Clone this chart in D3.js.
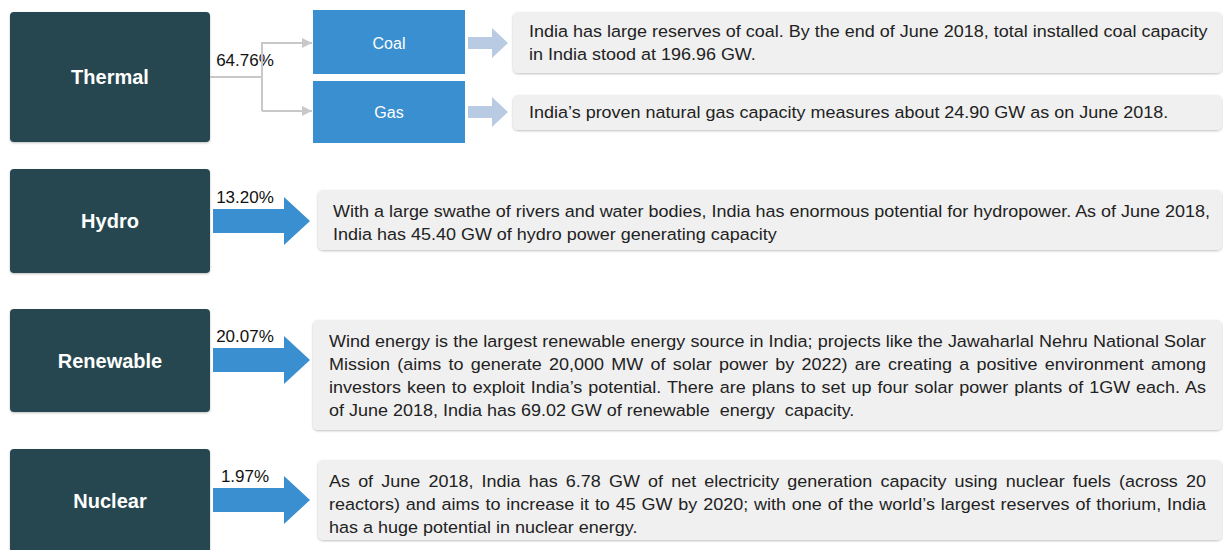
<html lang="en">
<head>
<meta http-equiv="Content-Type" content="text/html; charset=UTF-8">
<title>India power capacity</title>
<script type="text/javascript" src="https://cdn.jsdelivr.net/npm/d3@7"></script>
<style type="text/css">
body { margin: 0; background: #fff; }
text { font-family: "Liberation Sans", Arial, sans-serif; }
</style>
</head>
<body>

<script type="text/javascript">

// data
var categories = ["Thermal", "Hydro", "Renewable", "Nuclear"];
var shares = [64.76, 13.20, 20.07, 1.97];
var thermalTypes = ["Coal", "Gas"];
var thermalNotes = [
    ["India has large reserves of coal. By the end of June 2018, total installed coal capacity",
     "in India stood at 196.96 GW."],
    ["India\u2019s proven natural gas capacity measures about 24.90 GW as on June 2018."]
];
var notes = [
    null,
    ["With a large swathe of rivers and water bodies, India has enormous potential for hydropower. As of June 2018,",
     "India has 45.40 GW of hydro power generating capacity"],
    ["Wind energy is the largest renewable energy source in India; projects like the Jawaharlal Nehru National Solar",
     "Mission (aims to generate 20,000 MW of solar power by 2022) are creating a positive environment among",
     "investors keen to exploit India\u2019s potential. There are plans to set up four solar power plants of 1GW each. As",
     "of June 2018, India has 69.02 GW of renewable  energy  capacity."],
    ["As of June 2018, India has 6.78 GW of net electricity generation capacity using nuclear fuels (across 20",
     "reactors) and aims to increase it to 45 GW by 2020; with one of the world\u2019s largest reserves of thorium, India",
     "has a huge potential in nuclear energy."]
];

// layout
var boxTop = d3.scaleOrdinal().domain(categories).range([12, 169, 309, 449]);
var boxHeight = d3.scaleOrdinal().domain(categories).range([130, 104, 103, 104]);
var arrowMid = d3.scaleOrdinal().domain(categories).range([77, 221, 360, 500]);
var noteX = d3.scaleOrdinal().domain(categories).range([513, 318, 313, 318]);
var noteTop = d3.scaleOrdinal().domain(categories).range([12, 190, 320, 460]);
var noteH = d3.scaleOrdinal().domain(categories).range([61, 60, 110, 80]);
var subTop = d3.scaleOrdinal().domain(thermalTypes).range([10, 81]);
var subNoteTop = d3.scaleOrdinal().domain(thermalTypes).range([12, 95]);
var subNoteH = d3.scaleOrdinal().domain(thermalTypes).range([61, 35]);

var dark = "#28464f", blue = "#3a8fd0", pale = "#b9cbe2", grey = "#f0f0f0", line = "#c8c8c8";
var W = 1223, H = 550, noteRight = 1222, lineGap = 23, fontSize = 16.5, stretch = 1.09;

var svg = d3.select("body").append("svg")
    .attr("width", W)
    .attr("height", H);

var defs = svg.append("defs");
var f = defs.append("filter").attr("id", "shadow")
    .attr("x", "-5%").attr("y", "-5%").attr("width", "110%").attr("height", "115%");
f.append("feDropShadow").attr("dx", 0).attr("dy", 1).attr("stdDeviation", 1)
    .attr("flood-color", "#000").attr("flood-opacity", 0.25);
defs.append("marker").attr("id", "tri")
    .attr("viewBox", "0 0 10 10").attr("refX", 10).attr("refY", 5)
    .attr("markerWidth", 10).attr("markerHeight", 10).attr("markerUnits", "userSpaceOnUse")
    .attr("orient", "auto")
    .append("path").attr("d", "M0,0L10,5L0,10Z").attr("fill", line);

// category boxes
var rows = svg.selectAll("g.row").data(categories).enter().append("g").attr("class", "row");

rows.append("rect")
    .attr("x", 10).attr("y", function(d){ return boxTop(d); })
    .attr("width", 200).attr("height", function(d){ return boxHeight(d); })
    .attr("rx", 4)
    .attr("fill", dark)
    .attr("filter", "url(#shadow)");

rows.append("text")
    .attr("x", 110)
    .attr("y", function(d){ return boxTop(d) + boxHeight(d) / 2; })
    .attr("dy", "0.35em")
    .attr("text-anchor", "middle")
    .attr("fill", "#fff")
    .attr("font-size", 20)
    .attr("font-weight", "bold")
    .text(function(d){ return d; });

// percent labels
rows.append("text")
    .attr("x", 245)
    .attr("y", function(d, i){ return i == 0 ? 66 : arrowMid(d) - 18; })
    .attr("text-anchor", "middle")
    .attr("fill", "#111")
    .attr("font-size", 17)
    .text(function(d, i){ return shares[i].toFixed(2) + "%"; });

// big blue arrows for hydro / renewable / nuclear
var arrow = function(x0, x1, cy, shaft, head, headLen) {
    var p = d3.path();
    p.moveTo(x0, cy - shaft / 2);
    p.lineTo(x1 - headLen, cy - shaft / 2);
    p.lineTo(x1 - headLen, cy - head / 2);
    p.lineTo(x1, cy);
    p.lineTo(x1 - headLen, cy + head / 2);
    p.lineTo(x1 - headLen, cy + shaft / 2);
    p.lineTo(x0, cy + shaft / 2);
    p.closePath();
    return p.toString();
};

rows.filter(function(d, i){ return i > 0; })
    .append("path")
    .attr("d", function(d){ return arrow(213, 310, arrowMid(d), 24, 48, 26); })
    .attr("fill", blue);

// thermal connector
var mid = arrowMid("Thermal");
svg.append("path")
    .attr("d", "M210," + mid + "H262")
    .attr("stroke", line).attr("stroke-width", 2).attr("fill", "none");
svg.append("path")
    .attr("d", "M262," + (subTop("Coal") + 32) + "V" + (subTop("Gas") + 30))
    .attr("stroke", line).attr("stroke-width", 2).attr("fill", "none");

var subs = svg.selectAll("g.sub").data(thermalTypes).enter().append("g").attr("class", "sub");

subs.append("path")
    .attr("d", function(d){ var y = subTop(d) + (d == "Coal" ? 33 : 30); return "M262," + y + "H312"; })
    .attr("stroke", line).attr("stroke-width", 2).attr("fill", "none")
    .attr("marker-end", "url(#tri)");

subs.append("rect")
    .attr("x", 313).attr("y", function(d){ return subTop(d); })
    .attr("width", 152).attr("height", function(d){ return d == "Coal" ? 64 : 62; })
    .attr("fill", blue);

subs.append("text")
    .attr("x", 389)
    .attr("y", function(d){ return subTop(d) + (d == "Coal" ? 33 : 31); })
    .attr("dy", "0.35em")
    .attr("text-anchor", "middle")
    .attr("fill", "#fff")
    .attr("font-size", 16)
    .text(function(d){ return d; });

subs.append("path")
    .attr("d", function(d){ return arrow(468, 508, subNoteTop(d) + (d == "Coal" ? 31 : 17), 12, 30, 16); })
    .attr("fill", pale);

// note boxes
function drawNote(g, x, top, h, lines, tx, firstBase, justify) {
    g.append("rect")
        .attr("x", x).attr("y", top)
        .attr("width", noteRight - x).attr("height", h)
        .attr("rx", 5)
        .attr("fill", grey)
        .attr("filter", "url(#shadow)");
    var target = 877 / stretch;
    lines.forEach(function(s, i) {
        var t = g.append("text")
            .attr("transform", "translate(" + tx + "," + (firstBase + i * lineGap) + ") scale(" + stretch + ",1)")
            .attr("fill", "#222")
            .attr("font-size", fontSize)
            .style("white-space", "pre")
            .text(s);
        if (justify && i < lines.length - 1) {
            var w = t.node().getComputedTextLength();
            var n = s.split(" ").length - 1;
            if (n > 0) t.attr("word-spacing", (target - w) / n);
        }
    });
}

subs.each(function(d, i) {
    drawNote(d3.select(this), noteX("Thermal"), subNoteTop(d), subNoteH(d), thermalNotes[i], 529,
        subNoteTop(d) + (i == 0 ? 25 : 23), false);
});

rows.filter(function(d, i){ return i > 0; }).each(function(d) {
    var i = categories.indexOf(d);
    var tx = d == "Hydro" ? 333 : 329;
    drawNote(d3.select(this), noteX(d), noteTop(d), noteH(d), notes[i], tx, noteTop(d) + 27, true);
});

</script>

</body>
</html>
